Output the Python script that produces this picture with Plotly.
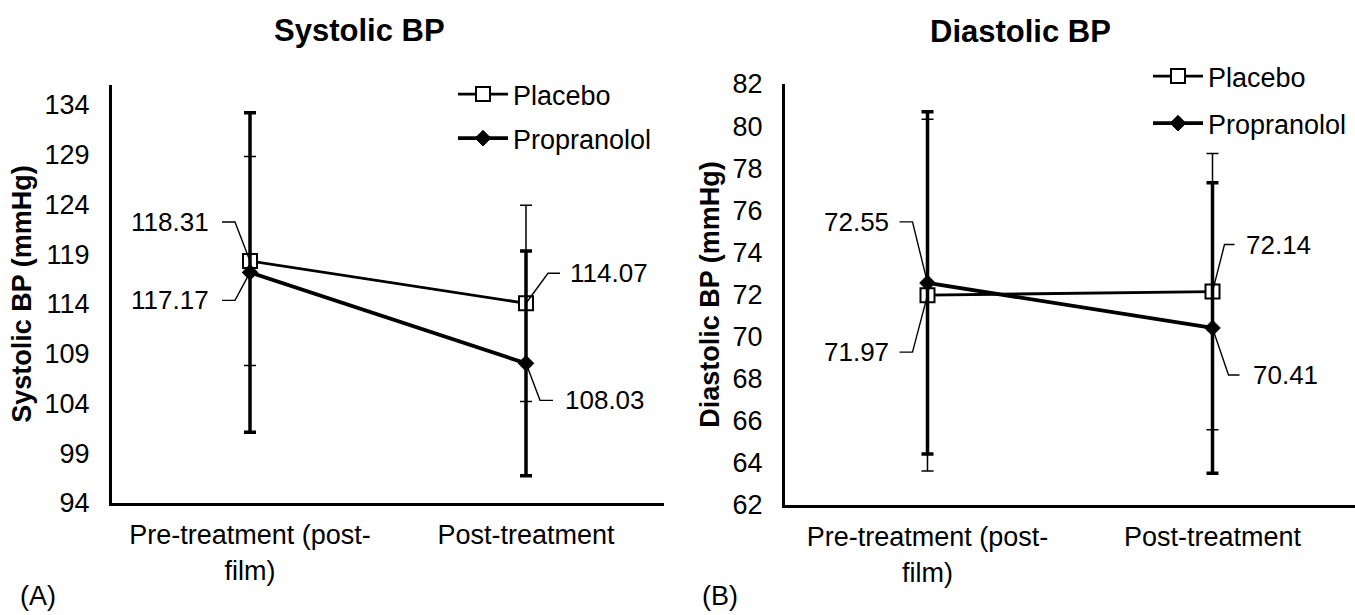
import plotly.graph_objects as go

# ---------------- data ----------------
categories = ["Pre-treatment (post-<br>film)", "Post-treatment"]
cat_pos = [0, 1]

sys_placebo = [118.31, 114.07]
sys_placebo_sd = [10.5, 9.86]
sys_propranolol = [117.17, 108.03]
sys_propranolol_sd = [16.05, 11.3]

dia_placebo = [71.97, 72.14]
dia_placebo_sd = [8.35, 6.56]
dia_propranolol = [72.55, 70.41]
dia_propranolol_sd = [8.13, 6.9]

sys_ticks = [94, 99, 104, 109, 114, 119, 124, 129, 134]
dia_ticks = [62, 64, 66, 68, 70, 72, 74, 76, 78, 80, 82]

FONT = "Arial, 'Liberation Sans', sans-serif"
W, H = 1355, 615


def px(v):
    return v / W


def py(v):
    return 1 - v / H


fig = go.Figure()


def add_panel(xa, ya, plac, plac_sd, prop, prop_sd, legend):
    fig.add_trace(go.Scatter(
        x=cat_pos, y=plac, name="Placebo", xaxis=xa, yaxis=ya,
        mode="lines+markers", legend=legend, legendgroup=legend + "a",
        line=dict(color="black", width=2.8),
        marker=dict(symbol="square", size=14, color="white",
                    line=dict(color="black", width=2)),
        error_y=dict(type="data", array=plac_sd, visible=True,
                     color="black", thickness=1.5, width=6),
    ))
    fig.add_trace(go.Scatter(
        x=cat_pos, y=prop, name="Propranolol", xaxis=xa, yaxis=ya,
        mode="lines+markers", legend=legend, legendgroup=legend + "b",
        line=dict(color="black", width=3.8),
        marker=dict(symbol="diamond", size=12, color="black",
                    line=dict(color="black", width=1)),
        error_y=dict(type="data", array=prop_sd, visible=True,
                     color="black", thickness=3.5, width=6),
    ))


add_panel("x", "y", sys_placebo, sys_placebo_sd, sys_propranolol,
          sys_propranolol_sd, "legend")
add_panel("x2", "y2", dia_placebo, dia_placebo_sd, dia_propranolol,
          dia_propranolol_sd, "legend2")

# data labels with elbow leader lines (offsets in pixels)
labels = [
    ("x", "y", 0, sys_placebo[0], "M0,0L-15,39L-28,39", -39, 39, "right"),
    ("x", "y", 0, sys_propranolol[0], "M0,0L-15,-28L-28,-28", -39, -28, "right"),
    ("x", "y", 1, sys_placebo[1], "M0,0L22,30L34,30", 42, 30, "left"),
    ("x", "y", 1, sys_propranolol[1], "M0,0L14,-37L27,-37", 37, -37, "left"),
    ("x2", "y2", 0, dia_propranolol[0], "M0,0L-15,61L-28,61", -37, 61, "right"),
    ("x2", "y2", 0, dia_placebo[0], "M0,0L-15,-57L-28,-57", -37, -57, "right"),
    ("x2", "y2", 1, dia_placebo[1], "M0,0L12,47L22,47", 31, 47, "left"),
    ("x2", "y2", 1, dia_propranolol[1], "M0,0L16,-47L27,-47", 38, -47, "left"),
]

shapes = []
annotations = []
for xr, yr, c, v, path, dx, dy, anc in labels:
    shapes.append(dict(type="path", xref=xr, yref=yr, xsizemode="pixel",
                       ysizemode="pixel", xanchor=c, yanchor=v, path=path,
                       line=dict(color="black", width=1.4)))
    annotations.append(dict(x=c, y=v, xref=xr, yref=yr, text=f"{v:.2f}",
                            showarrow=False, xanchor=anc, yanchor="middle",
                            xshift=dx, yshift=dy,
                            font=dict(size=26, color="black", family=FONT)))

# panel titles and letters
annotations += [
    dict(x=px(359), y=py(30), xref="paper", yref="paper", text="Systolic BP",
         showarrow=False, xanchor="center", yanchor="middle",
         font=dict(size=31, color="black", family=FONT, weight="bold")),
    dict(x=px(1020), y=py(32), xref="paper", yref="paper", text="Diastolic BP",
         showarrow=False, xanchor="center", yanchor="middle",
         font=dict(size=31, color="black", family=FONT, weight="bold")),
    dict(x=px(18), y=py(596), xref="paper", yref="paper", text="(A)",
         showarrow=False, xanchor="left", yanchor="middle",
         font=dict(size=27, color="black", family=FONT)),
    dict(x=px(700), y=py(596), xref="paper", yref="paper", text="(B)",
         showarrow=False, xanchor="left", yanchor="middle",
         font=dict(size=27, color="black", family=FONT)),
]

axis_common = dict(showgrid=False, zeroline=False, showline=True,
                   linecolor="black", linewidth=3, ticks="",
                   automargin=False,
                   tickfont=dict(size=27, color="black", family=FONT))

fig.update_layout(
    width=W, height=H,
    margin=dict(l=0, r=0, t=0, b=0),
    paper_bgcolor="white", plot_bgcolor="white",
    font=dict(family=FONT, color="black", size=27),
    showlegend=True,
    xaxis=dict(domain=[px(112), px(664)], range=[-0.5, 1.5],
               tickvals=cat_pos, ticktext=categories, anchor="y",
               ticklabelstandoff=6, **axis_common),
    yaxis=dict(domain=[1 - 503 / H, 1 - 85 / H], range=[94, 136],
               tickvals=sys_ticks, anchor="x", ticklabelstandoff=14,
               title=dict(text="Systolic BP (mmHg)", standoff=6,
                          font=dict(size=27, family=FONT, weight="bold")),
               **axis_common),
    xaxis2=dict(domain=[px(785), 1.0], range=[-0.5, 1.5],
                tickvals=cat_pos, ticktext=categories, anchor="y2",
                ticklabelstandoff=6, **axis_common),
    yaxis2=dict(domain=[1 - 505 / H, 1 - 84 / H], range=[62, 82],
                tickvals=dia_ticks, anchor="x2", ticklabelstandoff=14,
                title=dict(text="Diastolic BP (mmHg)", standoff=6,
                           font=dict(size=27, family=FONT, weight="bold")),
                **axis_common),
    legend=dict(x=px(453), y=py(70), xanchor="left", yanchor="top",
                bgcolor="rgba(0,0,0,0)", font=dict(size=27, family=FONT),
                itemwidth=50, tracegroupgap=6),
    legend2=dict(x=px(1148), y=py(52), xanchor="left", yanchor="top",
                 bgcolor="rgba(0,0,0,0)", font=dict(size=27, family=FONT),
                 itemwidth=50, tracegroupgap=9),
    shapes=shapes,
    annotations=annotations,
)

fig.write_html("out.html")
